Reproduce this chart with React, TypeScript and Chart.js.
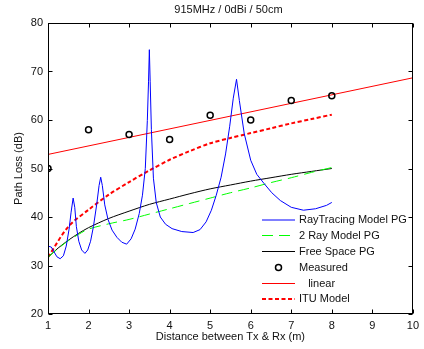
import React, { useEffect, useRef } from "react";
import { Chart, registerables } from "chart.js";

Chart.register(...registerables);

const chartTitle = "915MHz / 0dBi / 50cm";
const xTitle = "Distance between Tx & Rx (m)";
const yTitle = "Path Loss (dB)";
const xTicks = [1, 2, 3, 4, 5, 6, 7, 8, 9, 10];
const yTicks = [20, 30, 40, 50, 60, 70, 80];

const rayX = [1.0, 1.08, 1.15, 1.22, 1.3, 1.38, 1.45, 1.52, 1.57, 1.62, 1.66, 1.7, 1.76, 1.83, 1.91, 1.98, 2.05, 2.12, 2.2, 2.26, 2.3, 2.34, 2.4, 2.48, 2.58, 2.7, 2.82, 2.94, 3.05, 3.15, 3.25, 3.33, 3.4, 3.45, 3.48, 3.5, 3.52, 3.55, 3.6, 3.67, 3.77, 3.9, 4.06, 4.3, 4.58, 4.75, 4.9, 5.03, 5.15, 5.27, 5.38, 5.48, 5.57, 5.65, 5.72, 5.84, 6.0, 6.15, 6.33, 6.52, 6.73, 7.0, 7.3, 7.6, 7.87, 8.0];
const rayY = [34.0, 33.8, 32.8, 31.8, 31.4, 32.0, 34.0, 37.5, 41.0, 43.9, 42.0, 38.0, 35.0, 33.2, 32.5, 33.2, 35.0, 38.0, 42.5, 46.5, 48.2, 46.5, 42.5, 39.5, 37.3, 35.8, 34.8, 34.4, 35.5, 37.5, 40.7, 44.5, 50.0, 59.9, 68.0, 74.5, 68.0, 58.0, 48.0, 43.0, 40.0, 38.5, 37.6, 37.0, 36.8, 37.4, 39.0, 41.4, 44.5, 48.2, 53.0, 58.6, 64.5, 68.4, 64.0, 57.2, 51.7, 48.8, 46.9, 45.0, 43.4, 42.0, 41.4, 41.7, 42.4, 43.0];

const modelX = [1, 1.25, 1.5, 1.75, 2, 2.5, 3, 3.5, 4, 4.5, 5, 5.5, 6, 6.5, 7, 7.5, 8];
const twoRayY = [31.7, 33.5, 35.1, 36.4, 37.5, 38.6, 39.5, 40.6, 41.7, 42.8, 43.9, 45.0, 46.0, 47.1, 48.1, 49.2, 50.2];
const freeSpaceY = [31.7, 33.6, 35.2, 36.6, 37.8, 39.7, 41.2, 42.6, 43.7, 44.8, 45.8, 46.6, 47.4, 48.1, 48.8, 49.4, 50.0];

const ituX = [1, 1.5, 2, 2.5, 3, 3.5, 4, 4.5, 5, 5.5, 6, 6.5, 7, 7.5, 8];
const ituY = [31.7, 38.0, 41.5, 44.6, 47.2, 49.6, 51.8, 53.6, 55.2, 56.3, 57.3, 58.3, 59.3, 60.2, 61.1];

const measuredX = [1, 2, 3, 4, 5, 6, 7, 8];
const measuredY = [50, 58, 57, 56, 61, 60, 64, 65];

const linearX = [1, 10];
const linearY = [52.9, 68.7];

const FONT = "11px 'Liberation Sans', Arial, Helvetica, sans-serif";

const pts = (xs: number[], ys: number[]) => xs.map((x, i) => ({ x, y: ys[i] }));

const framePlugin = {
  id: "frame",
  afterDraw(chart: any) {
    const ctx = chart.ctx;
    const a = chart.chartArea;
    const xs = chart.scales.x;
    const ys = chart.scales.y;
    const L = Math.round(a.left) + 0.5;
    const R = Math.round(a.right) - 0.5;
    const T = Math.round(a.top) + 0.5;
    const B = Math.round(a.bottom) - 0.5;
    ctx.save();
    ctx.strokeStyle = "#000";
    ctx.lineWidth = 1;
    ctx.setLineDash([]);
    ctx.strokeRect(L, T, R - L, B - T);
    ctx.beginPath();
    xTicks.forEach((v) => {
      const px = Math.round(xs.getPixelForValue(v)) + 0.5;
      ctx.moveTo(px, B);
      ctx.lineTo(px, B - 4);
      ctx.moveTo(px, T);
      ctx.lineTo(px, T + 4);
    });
    yTicks.forEach((v) => {
      const py = Math.round(ys.getPixelForValue(v)) + 0.5;
      ctx.moveTo(L, py);
      ctx.lineTo(L + 4, py);
      ctx.moveTo(R, py);
      ctx.lineTo(R - 4, py);
    });
    ctx.stroke();

    ctx.fillStyle = "#111";
    ctx.font = FONT;
    ctx.textAlign = "center";
    ctx.textBaseline = "middle";
    const cx = (a.left + a.right) / 2;
    ctx.fillText(chartTitle, cx - 2, 10);
    ctx.fillText(xTitle, cx, 337);
    ctx.save();
    ctx.translate(19, (a.top + a.bottom) / 2);
    ctx.rotate(-Math.PI / 2);
    ctx.fillText(yTitle, 0, 0);
    ctx.restore();

    // legend
    const lx0 = 262;
    const lx1 = 295;
    const tx = 299;
    const rows = [220, 235.5, 251.5, 267.5, 283.5, 299];
    const entries = [
      { label: "RayTracing Model PG", color: "#0000ff", dash: [] as number[], w: 1, type: "line" },
      { label: "2 Ray Model PG", color: "#00ff00", dash: [11, 6], w: 1, type: "line" },
      { label: "Free Space PG", color: "#000000", dash: [], w: 1, type: "line" },
      { label: "Measured", color: "#000000", dash: [], w: 1.5, type: "point" },
      { label: "   linear", color: "#ff0000", dash: [], w: 1, type: "line" },
      { label: "ITU Model", color: "#ff0000", dash: [4, 2.5], w: 2, type: "line" },
    ];
    ctx.textAlign = "left";
    entries.forEach((e, i) => {
      const y = rows[i];
      ctx.strokeStyle = e.color;
      ctx.lineWidth = e.w;
      ctx.setLineDash(e.dash);
      if (e.type === "line") {
        ctx.beginPath();
        ctx.moveTo(lx0, y);
        ctx.lineTo(lx1, y);
        ctx.stroke();
      } else {
        ctx.beginPath();
        ctx.arc((lx0 + lx1) / 2, y, 3, 0, Math.PI * 2);
        ctx.stroke();
      }
      ctx.setLineDash([]);
      ctx.fillStyle = "#111";
      ctx.fillText(e.label, tx, y);
    });
    ctx.restore();
  },
};

export default function App() {
  const ref = useRef<HTMLCanvasElement | null>(null);
  useEffect(() => {
    document.body.style.margin = "0";
    const canvas = ref.current;
    if (!canvas) return;
    const chart = new Chart(canvas, {
      type: "scatter",
      data: {
        datasets: [
          { label: "RayTracing Model PG", data: pts(rayX, rayY), showLine: true, borderColor: "#0000ff", borderWidth: 1, pointRadius: 0, fill: false },
          { label: "2 Ray Model PG", data: pts(modelX, twoRayY), showLine: true, borderColor: "#00ff00", borderWidth: 1, borderDash: [11, 6], pointRadius: 0, tension: 0.3, fill: false },
          { label: "Free Space PG", data: pts(modelX, freeSpaceY), showLine: true, borderColor: "#000000", borderWidth: 1, pointRadius: 0, tension: 0.3, fill: false },
          { label: "Measured", data: pts(measuredX, measuredY), showLine: false, pointRadius: 3, pointBorderWidth: 1.5, pointBorderColor: "#000", pointBackgroundColor: "rgba(0,0,0,0)", borderColor: "#000" },
          { label: "linear", data: pts(linearX, linearY), showLine: true, borderColor: "#ff0000", borderWidth: 1, pointRadius: 0, fill: false },
          { label: "ITU Model", data: pts(ituX, ituY), showLine: true, borderColor: "#ff0000", borderWidth: 2, borderDash: [4, 2.5], pointRadius: 0, tension: 0.3, fill: false },
        ],
      } as any,
      options: {
        animation: false,
        responsive: false,
        devicePixelRatio: 1,
        layout: { padding: { left: 0, right: 6, top: 23, bottom: 0 } },
        plugins: { legend: { display: false }, title: { display: false }, tooltip: { enabled: false } },
        scales: {
          x: {
            type: "linear",
            min: 1,
            max: 10,
            afterBuildTicks: (s: any) => { s.ticks = xTicks.map((v) => ({ value: v })); },
            afterFit: (s: any) => { s.height = 35; },
            grid: { display: false, drawTicks: false },
            border: { display: false },
            ticks: { padding: 5, color: "#111", font: { family: "'Liberation Sans', Arial, sans-serif", size: 11 } },
          },
          y: {
            type: "linear",
            min: 20,
            max: 80,
            afterBuildTicks: (s: any) => { s.ticks = yTicks.map((v) => ({ value: v })); },
            afterFit: (s: any) => { s.width = 48; },
            grid: { display: false, drawTicks: false },
            border: { display: false },
            ticks: { padding: 5, color: "#111", font: { family: "'Liberation Sans', Arial, sans-serif", size: 11 } },
          },
        },
      } as any,
      plugins: [framePlugin],
    });
    return () => chart.destroy();
  }, []);
  return (
    <div style={{ width: 424, height: 349, background: "#fff" }}>
      <canvas ref={ref} width={424} height={349} style={{ width: 424, height: 349, display: "block" }} />
    </div>
  );
}
